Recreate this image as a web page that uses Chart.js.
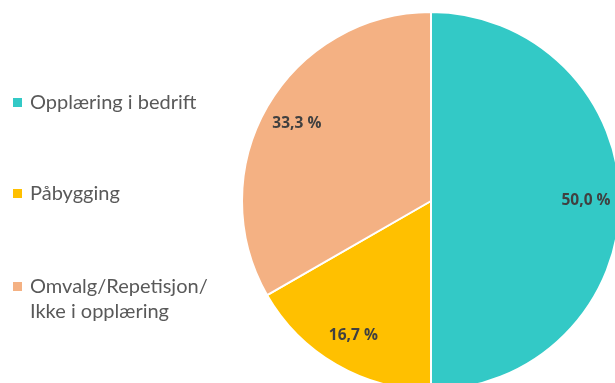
<!DOCTYPE html>
<html><head><meta charset="utf-8">
<script src="https://cdn.jsdelivr.net/npm/chart.js@4"></script>
<style>
html,body{margin:0;padding:0;background:#fff;overflow:hidden;width:615px;height:383px;}
#wrap{position:absolute;left:0;top:0;width:630px;height:410px;}
#legend{position:absolute;left:0;top:0;font-family:Lato,"Open Sans",sans-serif;font-size:20px;color:#595959;}
.item{position:absolute;left:13px;white-space:nowrap;}
.sw{position:absolute;left:0;width:9px;height:9px;}
.txt{position:absolute;left:17px;line-height:25px;}
</style></head>
<body>
<div id="wrap"><canvas id="c" width="630" height="410"></canvas></div>
<div id="legend"></div>
<script>
const categories = ["Opplæring i bedrift", "Påbygging", "Omvalg/Repetisjon/\nIkke i opplæring"];
const values = [50.0, 16.7, 33.3];
const colors = ["#33C9C6", "#FFC000", "#F4B183"];
const legendTops = [89, 180, 273];

const leg = document.getElementById('legend');
categories.forEach((c, i) => {
  const it = document.createElement('div');
  it.className = 'item';
  it.style.top = legendTops[i] + 'px';
  const sw = document.createElement('div');
  sw.className = 'sw'; sw.style.background = colors[i]; sw.style.top = '9px';
  const tx = document.createElement('div');
  tx.className = 'txt'; tx.innerHTML = c.replace('\n', '<br>');
  it.appendChild(sw); it.appendChild(tx); leg.appendChild(it);
});

const labelPlugin = {
  id: 'pctLabels',
  afterDatasetsDraw(chart) {
    const ctx = chart.ctx;
    const meta = chart.getDatasetMeta(0);
    ctx.save();
    ctx.font = 'bold 15.5px "Open Sans", sans-serif';
    ctx.fillStyle = '#404040';
    ctx.textAlign = 'center';
    ctx.textBaseline = 'middle';
    meta.data.forEach((arc, i) => {
      const mid = (arc.startAngle + arc.endAngle) / 2;
      const r = arc.outerRadius * 0.82;
      const x = arc.x + Math.cos(mid) * r;
      const y = arc.y + Math.sin(mid) * r;
      ctx.fillText(values[i].toFixed(1).replace('.', ',') + ' %', x, y);
    });
    ctx.restore();
  }
};

new Chart(document.getElementById('c'), {
  type: 'pie',
  data: {
    labels: categories,
    datasets: [{
      data: values,
      backgroundColor: colors,
      borderColor: '#ffffff',
      borderWidth: 2
    }]
  },
  options: {
    responsive: false,
    animation: false,
    layout: { padding: { left: 241, right: 9, top: 11, bottom: 19 } },
    plugins: { legend: { display: false }, tooltip: { enabled: false } }
  },
  plugins: [labelPlugin]
});
</script>
</body></html>
